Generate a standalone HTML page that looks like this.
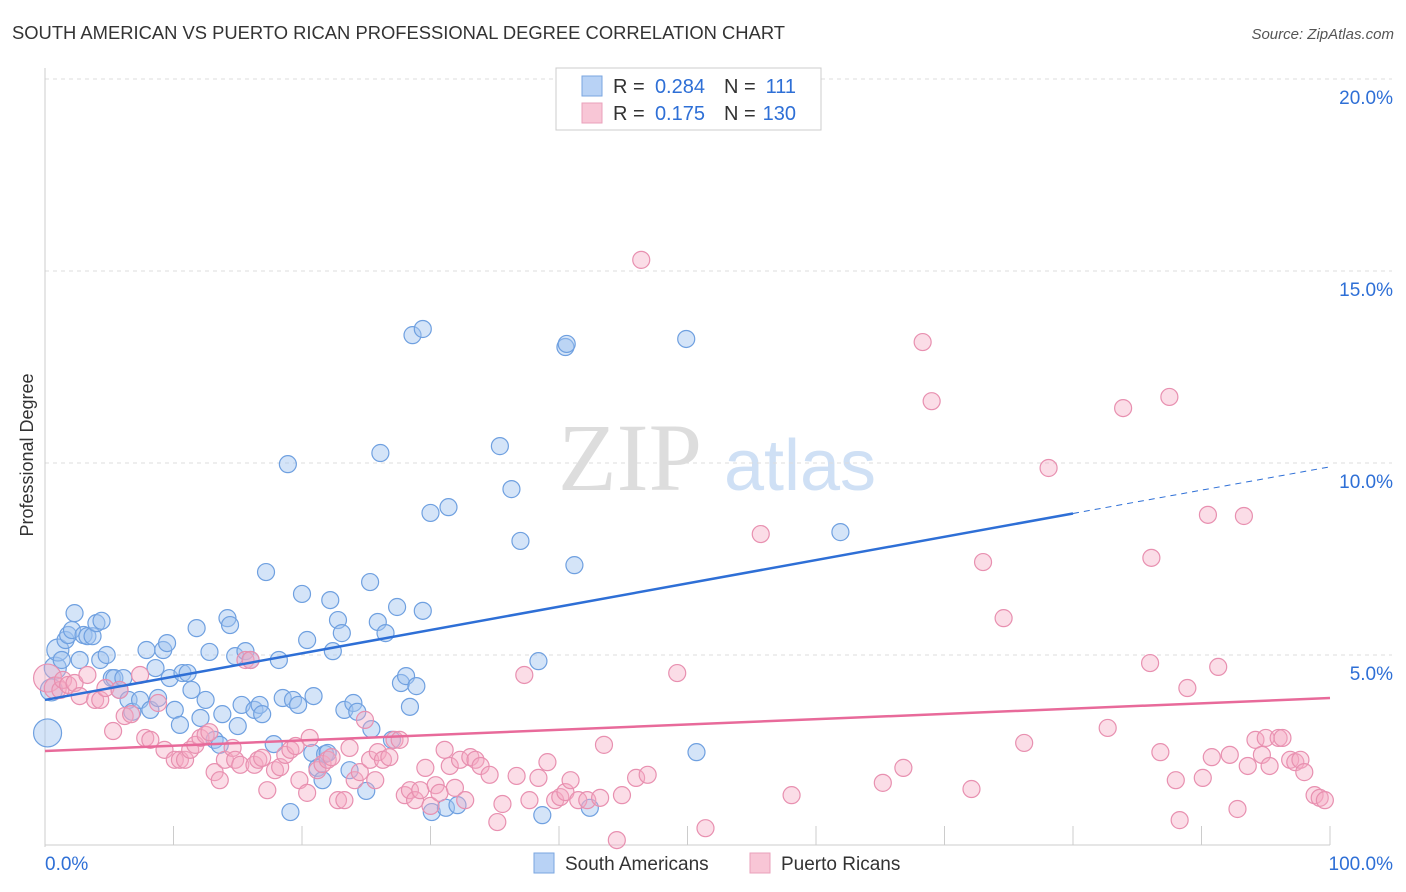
<!DOCTYPE html>
<html><head><meta charset="utf-8">
<style>
body{margin:0;background:#fff;font-family:"Liberation Sans",sans-serif;}
#wrap{position:relative;width:1406px;height:892px;overflow:hidden;}
</style></head>
<body>
<div id="wrap">
<svg id="chart" width="1406" height="892" xmlns="http://www.w3.org/2000/svg">
<text x="12" y="39" font-size="18" fill="#333" textLength="773" lengthAdjust="spacingAndGlyphs">SOUTH AMERICAN VS PUERTO RICAN PROFESSIONAL DEGREE CORRELATION CHART</text>
<text x="1394" y="39" font-size="15" fill="#555" font-style="italic" text-anchor="end">Source: ZipAtlas.com</text>
<text x="630" y="490" font-size="96" fill="#ddd" font-family="Liberation Serif" text-anchor="middle">ZIP</text>
<text x="800" y="490" font-size="72" fill="#cfe0f5" text-anchor="middle">atlas</text>
<text transform="translate(33,455) rotate(-90)" font-size="18" fill="#333" text-anchor="middle">Professional Degree</text>
<g id="grid"></g><g id="pts"></g><g id="lines"></g>
<g>
<rect x="556" y="68" width="265" height="62" fill="#fff" stroke="#ccc"/>
<rect x="582" y="76" width="20" height="20" fill="#b8d2f5" stroke="#7aa6e0"/>
<rect x="582" y="103" width="20" height="20" fill="#f8c6d6" stroke="#eaa0bb"/>
<g font-size="20" fill="#333">
<text x="613" y="93">R =</text>
<text x="705" y="93" fill="#2e6fd6" text-anchor="end">0.284</text>
<text x="724" y="93">N =</text>
<text x="796" y="93" fill="#2e6fd6" text-anchor="end">111</text>
<text x="613" y="120">R =</text>
<text x="705" y="120" fill="#2e6fd6" text-anchor="end">0.175</text>
<text x="724" y="120">N =</text>
<text x="796" y="120" fill="#2e6fd6" text-anchor="end">130</text>
</g>
</g>
<g>
<rect x="534" y="853" width="20" height="20" fill="#b8d2f5" stroke="#7aa6e0"/>
<text x="565" y="870" font-size="19" fill="#333">South Americans</text>
<rect x="750" y="853" width="20" height="20" fill="#f8c6d6" stroke="#eaa0bb"/>
<text x="781" y="870" font-size="19" fill="#333">Puerto Ricans</text>
</g>
</svg>
</div>
<script>
const yTicks=[5,10,15,20];
const yTickLabels=["5.0%","10.0%","15.0%","20.0%"];
const xTicks=[0,10,20,30,40,50,60,70,80,90,100];
const xEndLabels=["0.0%","100.0%"];
const blueX=[0.2,0.5,0.8,1.0,1.3,1.6,1.8,2.1,2.3,2.7,3.0,3.3,3.7,4.0,4.3,4.4,4.8,5.2,5.4,5.8,6.1,6.5,6.8,7.4,7.9,8.2,8.6,8.8,9.2,9.5,9.7,10.1,10.5,10.7,11.1,11.4,11.8,12.1,12.5,12.8,13.2,13.6,13.8,14.2,14.4,14.8,15.0,15.3,15.6,16.0,16.3,16.7,16.9,17.2,17.8,18.2,18.5,18.9,19.1,19.3,19.7,20.0,20.4,20.8,20.9,21.2,21.6,21.8,22.0,22.2,22.4,22.8,23.1,23.3,23.7,24.0,24.3,25.0,25.3,25.4,25.9,26.1,26.5,27.0,27.4,27.7,28.1,28.4,28.6,28.9,29.4,29.4,30.0,30.1,31.4,31.2,32.1,35.4,36.3,37.0,38.4,38.7,40.5,40.6,41.2,42.4,49.9,50.7,61.9];
const blueY=[2.97,4.09,4.66,5.13,4.87,5.39,5.52,5.65,6.09,4.87,5.52,5.49,5.49,5.83,4.87,5.89,5.0,4.4,4.4,4.09,4.4,3.83,3.52,3.83,5.13,3.57,4.66,3.88,5.13,5.31,4.4,3.57,3.18,4.53,4.53,4.09,5.7,3.36,3.83,5.08,2.79,2.66,3.46,5.96,5.78,4.97,3.15,3.7,5.1,4.87,3.57,3.7,3.46,7.16,2.68,4.87,3.88,9.97,0.91,3.83,3.7,6.59,5.39,2.45,3.93,2.06,1.74,2.42,2.45,6.43,5.1,5.91,5.57,3.57,2.0,3.75,3.52,1.46,6.9,3.07,5.86,10.26,5.57,2.79,6.25,4.27,4.45,3.65,13.33,4.19,13.49,6.15,8.7,0.91,8.85,1.02,1.09,10.44,9.32,7.97,4.84,0.83,13.02,13.1,7.34,1.02,13.23,2.47,8.2];
const pinkX=[0.2,0.8,1.2,1.4,1.8,2.3,2.7,3.3,3.9,4.3,4.7,5.3,5.8,6.2,6.7,7.4,7.8,8.2,8.8,9.3,10.1,10.5,10.9,11.3,11.7,12.1,12.5,12.8,13.2,13.6,14.0,14.6,14.8,15.2,15.6,16.0,16.3,16.6,16.9,17.3,17.9,18.3,18.7,19.1,19.5,19.8,20.4,20.6,21.2,21.6,22.0,22.3,22.8,23.3,23.7,24.1,24.5,24.9,25.3,25.7,25.9,26.3,26.8,27.2,27.6,28.0,28.4,28.8,29.2,29.6,30.0,30.4,30.7,31.1,31.5,31.9,32.3,32.7,33.1,33.5,33.9,34.6,35.2,35.6,36.7,37.3,37.7,38.4,39.1,39.7,40.1,40.5,40.9,41.5,42.2,43.2,43.5,44.5,44.9,46.0,46.4,46.9,49.2,51.4,55.7,58.1,65.2,66.8,68.3,69.0,72.1,73.0,74.6,76.2,78.1,82.7,83.9,86.1,86.0,86.8,87.5,88.0,88.3,88.9,90.1,90.5,90.8,91.3,92.2,92.8,93.3,93.6,94.2,94.7,95.0,95.3,96.0,96.3,96.9,97.3,97.7,98.0,98.8,99.2,99.6];
const pinkY=[4.4,4.14,4.09,4.35,4.22,4.27,3.93,4.48,3.83,3.83,4.14,3.02,4.09,3.41,3.46,4.48,2.84,2.79,3.75,2.53,2.27,2.27,2.27,2.53,2.66,2.84,2.92,2.99,1.95,1.74,2.27,2.58,2.27,2.14,4.87,4.87,2.14,2.27,2.32,1.48,2.0,2.08,2.4,2.53,2.63,1.74,1.41,2.84,2.0,2.16,2.27,2.34,1.22,1.22,2.58,1.74,1.95,3.31,2.27,1.74,2.47,2.27,2.34,2.79,2.79,1.35,1.48,1.22,1.48,2.06,1.07,1.61,1.41,2.53,2.11,1.54,2.27,1.22,2.34,2.27,2.11,1.88,0.65,1.12,1.85,4.48,1.22,1.8,2.21,1.22,1.3,1.43,1.74,1.22,1.22,1.28,2.66,0.18,1.35,1.8,15.29,1.88,4.53,0.49,8.15,1.35,1.67,2.06,13.15,11.61,1.51,7.42,5.96,2.71,9.87,3.1,11.43,7.53,4.79,2.47,11.72,1.74,0.7,4.14,1.8,8.65,2.34,4.69,2.4,0.99,8.62,2.11,2.79,2.4,2.84,2.11,2.84,2.84,2.27,2.21,2.27,1.95,1.35,1.28,1.22];
const blueTrend=[3.83,9.9];
const pinkTrend=[2.5,3.88];
const blueSolidEnd=80;

const X0=45,X1=1330,Y0=847,PER=38.4;
const sx=v=>X0+(X1-X0)*v/100;
const sy=v=>Y0-v*PER;
const NS="http://www.w3.org/2000/svg";
function mk(tag,attrs,parent){const e=document.createElementNS(NS,tag);for(const k in attrs)e.setAttribute(k,attrs[k]);parent.appendChild(e);return e;}
const grid=document.getElementById('grid'),pts=document.getElementById('pts'),lines=document.getElementById('lines');
yTicks.forEach((t,i)=>{
  const l=mk('line',{x1:X0,x2:1392,y1:sy(t),y2:sy(t),stroke:'#ddd','stroke-dasharray':'4,4'},grid);
  
  
  const tx=mk('text',{x:1393,y:sy(t)+25,'font-size':19,fill:'#2e6fd6','text-anchor':'end'},grid);
  tx.textContent=yTickLabels[i];
  
  
});
const ax=mk('line',{x1:X0,x2:X0,y1:68,y2:Y0,stroke:'#ccc'},grid);


const bx=mk('line',{x1:X0,x2:X1,y1:Y0-2,y2:Y0-2,stroke:'#ccc'},grid);


xTicks.forEach(t=>{
  const l=mk('line',{x1:sx(t),x2:sx(t),y1:826,y2:845,stroke:'#ccc'},grid);
  
  
});
[[0,'start',45],[100,'end',1393]].forEach((a,i)=>{
  const tx=mk('text',{x:a[2],y:870,'font-size':19,fill:'#2e6fd6','text-anchor':a[1]},grid);
  tx.textContent=xEndLabels[i];
  
  
});
function dots(xs,ys,fill,stroke,name){
  xs.forEach((x,i)=>{
    const r=(x<0.5)?14:(x<1.1?11:8.5);
    const c=mk('circle',{cx:sx(x),cy:sy(ys[i]),r:r,fill:fill,stroke:stroke,'stroke-width':1.2},pts);
    
    
  });
}
dots(blueX,blueY,'rgba(160,196,240,0.45)','#6fa0e0','point-south-american');
dots(pinkX,pinkY,'rgba(245,170,195,0.4)','#e890b0','point-puerto-rican');
const bt=v=>blueTrend[0]+(blueTrend[1]-blueTrend[0])*v/100;
const b1=mk('line',{x1:sx(0),y1:sy(bt(0)),x2:sx(blueSolidEnd),y2:sy(bt(blueSolidEnd)),stroke:'#2e6fd6','stroke-width':2.5},lines);


const b2=mk('line',{x1:sx(blueSolidEnd),y1:sy(bt(blueSolidEnd)),x2:sx(100),y2:sy(bt(100)),stroke:'#2e6fd6','stroke-width':1,'stroke-dasharray':'6,5'},lines);


const p1=mk('line',{x1:sx(0),y1:sy(pinkTrend[0]),x2:sx(100),y2:sy(pinkTrend[1]),stroke:'#e86a9a','stroke-width':2.5},lines);


</script>
</body></html>
